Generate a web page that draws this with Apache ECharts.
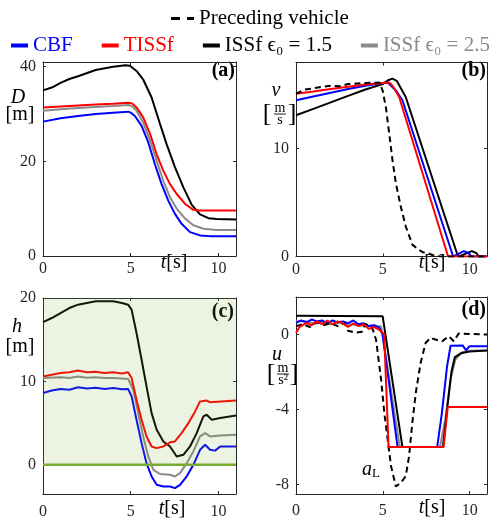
<!DOCTYPE html>
<html><head><meta charset="utf-8">
<script src="https://cdn.jsdelivr.net/npm/echarts@6/dist/echarts.min.js"></script>
<style>html,body{margin:0;padding:0;background:#fff}#c{width:500px;height:525px}</style>
</head><body><div id="c"></div>
<script>
// ---- tick values ----
const xTicks = [0, 5, 10];
const yTicksA = [0, 20, 40];
const yTicksB = [0, 10];
const yTicksC = [0, 10, 20];
const yTicksD = [-8, -4, 0];

// ---- series names ----
const names = ['CBF', 'TISSf', 'ISSf ϵ₀ = 1.5', 'ISSf ϵ₀ = 2.5', 'Preceding vehicle'];

// ---- (a) distance D [m] ----
const cbfD = [[0,28.4],[1,29.1],[2,29.6],[3,30.0],[4,30.3],[4.85,30.5],[5.0,30.3],[5.24,29.6],[5.62,27.5],[6.0,24.0],[6.38,19.4],[6.76,15.2],[7.14,11.7],[7.52,8.9],[7.9,6.8],[8.38,5.05],[8.95,4.35],[9.5,4.2],[11,4.2]];
const tissfD = [[0,31.4],[1,31.6],[2,31.8],[3,32.0],[4,32.2],[4.9,32.4],[5.1,32.2],[5.33,31.4],[5.71,29.3],[6.1,25.8],[6.48,21.5],[6.86,18.0],[7.24,15.2],[7.62,13.1],[8.1,11.0],[8.57,9.75],[8.95,9.6],[11,9.6]];
const issf15D = [[0,35.0],[0.5,35.6],[1,36.6],[1.5,37.4],[2,38.0],[3,39.3],[4,40.0],[4.7,40.3],[4.95,40.2],[5.33,39.1],[5.71,37.3],[6.19,33.5],[6.67,27.9],[7.05,23.6],[7.52,18.8],[8.0,14.5],[8.48,10.8],[8.95,8.8],[9.43,8.0],[9.9,7.8],[11,7.7]];
const issf25D = [[0,30.7],[1,31.0],[2,31.3],[3,31.5],[4,31.7],[4.9,31.9],[5.1,31.6],[5.33,30.7],[5.71,28.2],[6.1,24.4],[6.48,20.1],[6.86,15.9],[7.24,12.4],[7.62,10.0],[8.1,7.9],[8.57,6.5],[9.14,5.75],[9.9,5.5],[11,5.5]];

// ---- (b) speed v [m/s] ----
const precV = [[0,15.1],[0.5,15.5],[1,15.6],[1.5,15.75],[2,15.85],[2.5,15.8],[3,16.0],[3.5,16.05],[4,16.1],[4.8,16.15],[4.99,15.4],[5.18,13.8],[5.37,11.4],[5.56,8.9],[5.75,6.8],[6.04,4.6],[6.32,2.8],[6.7,1.1],[7.09,0.6],[7.3,0.4],[7.6,0.3],[8.0,0.05],[8.3,0],[11,0]];
const tissfV = [[0,15.1],[1,15.3],[2,15.55],[3,15.75],[4,15.95],[5,16.1],[5.37,16.15],[5.56,15.85],[5.94,14.8],[8.76,0],[11,0]];
const cbfV = [[0,14.5],[1,14.85],[2,15.2],[3,15.55],[4,15.85],[5,16.1],[5.28,16.15],[5.76,15.4],[6.13,14.5],[9.05,0],[9.3,0.2],[9.66,0.5],[9.9,0.35],[10.13,0],[11,0]];
const issf15V = [[0,13.1],[1,13.7],[2,14.3],[3,14.9],[4,15.5],[5,16.0],[5.3,16.35],[5.56,16.5],[5.8,16.3],[6.32,14.8],[9.33,0],[9.6,0.15],[10.13,0.5],[10.4,0.3],[10.51,0],[11,0]];

// ---- (c) safety h [m] ----
const safeTop = [[0,20],[11,20]];
const safeLine = [[0,0],[11,0]];
const cbfH = [[0,8.6],[0.5,8.9],[1,9.1],[1.5,9.0],[2,9.3],[2.5,9.15],[3,9.25],[3.5,9.1],[4,9.2],[4.5,9.05],[4.85,9.1],[5.05,8.2],[5.33,5.4],[5.62,2.6],[5.9,0.2],[6.19,-1.4],[6.48,-2.4],[6.86,-2.6],[7.24,-2.6],[7.52,-2.8],[7.81,-2.4],[8.19,-1.4],[8.57,0],[8.95,1.8],[9.24,2.4],[9.52,1.8],[9.81,1.7],[10.1,2.2],[11,2.2]];
const tissfH = [[0,10.6],[0.5,10.8],[1,11.0],[1.5,11.1],[2,11.3],[2.5,11.1],[3,11.15],[3.5,11.0],[4,11.1],[4.5,10.95],[4.85,11.1],[5.05,10.4],[5.33,7.8],[5.62,5.4],[5.9,3.4],[6.19,2.2],[6.48,2.0],[6.86,2.2],[7.24,2.7],[7.52,2.8],[7.9,3.8],[8.29,5.0],[8.67,6.4],[8.95,7.6],[9.33,7.7],[9.52,7.5],[11,7.7]];
const issf15H = [[0,17.1],[0.5,17.6],[1,18.2],[1.5,18.8],[2,19.2],[2.5,19.4],[3,19.6],[3.5,19.6],[4,19.6],[4.5,19.4],[4.85,19.2],[5.05,18.6],[5.33,15.8],[5.62,12.6],[5.9,9.4],[6.19,6.2],[6.48,4.2],[6.86,2.8],[7.24,2.2],[7.62,1.0],[8.0,1.2],[8.38,2.2],[8.76,3.8],[9.14,5.8],[9.33,6.0],[9.62,5.4],[10.1,5.6],[11,5.9]];
const issf25H = [[0,10.4],[1,10.5],[1.5,10.4],[2,10.6],[2.5,10.45],[3,10.5],[3.5,10.4],[4,10.4],[4.5,10.35],[4.85,10.3],[5.14,9.0],[5.43,6.2],[5.71,3.4],[6.0,1.0],[6.29,-0.6],[6.67,-1.1],[7.24,-1.2],[7.52,-1.4],[7.81,-1.0],[8.19,0.2],[8.57,1.6],[8.95,3.4],[9.24,3.8],[9.52,3.4],[10.1,3.5],[11,3.6]];

// ---- (d) input u [m/s^2] ----
const precU = [[0,0.44],[0.4,0.55],[0.8,0.4],[1.2,0.65],[1.6,0.5],[2.0,0.6],[2.4,0.45],[2.8,0.6],[3.0,0.2],[3.4,0.1],[3.8,0.15],[4.0,0.55],[4.2,0.5],[4.42,0.27],[4.61,-0.27],[4.9,-2.4],[5.09,-4.2],[5.28,-5.6],[5.47,-7.0],[5.75,-8.1],[6.04,-7.9],[6.32,-7.55],[6.51,-6.5],[6.7,-4.7],[6.9,-3.1],[7.18,-1.5],[7.47,-0.44],[7.75,-0.18],[8.04,-0.27],[8.42,-0.36],[8.8,-0.09],[9.09,-0.36],[9.37,0.05],[11,0]];
const cbfU = [[0,0.62],[0.3,0.75],[0.6,0.65],[0.9,0.8],[1.2,0.7],[1.5,0.75],[1.8,0.6],[2.1,0.75],[2.4,0.65],[2.7,0.7],[3.0,0.6],[3.3,0.75],[3.6,0.55],[3.9,0.6],[4.2,0.45],[4.5,0.5],[4.8,0.36],[4.99,0],[5.85,-6],[8.13,-6],[8.4,-4.2],[8.7,-1.7],[8.9,-0.6],[9.0,-0.53],[9.6,-0.58],[9.79,-0.84],[10.0,-0.62],[11,-0.62]];
const tissfU = [[0,0.09],[0.2,0.4],[0.6,0.62],[0.9,0.5],[1.2,0.7],[1.5,0.55],[1.8,0.75],[2.1,0.55],[2.4,0.7],[2.7,0.6],[3.0,0.4],[3.3,0.6],[3.6,0.45],[3.9,0.55],[4.2,0.3],[4.5,0.4],[4.8,0.25],[5.08,0.0],[5.33,-6],[8.5,-6],[8.74,-3.86],[11,-3.86]];
const issf15U = [[0,1.0],[4.99,0.98],[6.13,-6],[8.46,-6],[8.7,-4.0],[8.95,-2.0],[9.15,-1.2],[9.5,-1.0],[10,-0.9],[11,-0.85]];
const issf25U = [[0,0.7],[0.5,0.72],[1,0.6],[1.5,0.68],[2,0.55],[2.5,0.62],[3,0.5],[3.5,0.55],[4,0.45],[4.5,0.45],[4.9,0.44],[5.98,-6],[8.29,-6],[8.6,-4.5],[8.9,-2.4],[9.18,-1.33],[9.56,-0.94],[10,-0.87],[11,-0.85]];

// ---- styling ----
const SERIF = 'Liberation Serif';
const AX = '#262626';
const C = {CBF:'#0000ff', TISSf:'#ff0000', I15:'#000000', I25:'#8a8a8a', PREC:'#000000'};
const grids = [
  {left:43, top:62, width:193, height:194},
  {left:296, top:62.5, width:191, height:194},
  {left:43, top:298, width:193, height:196},
  {left:296, top:297, width:191, height:197}
];
const yRanges = [[0,41,yTicksA],[0,18,yTicksB],[-3.5,20,yTicksC],[-8.5,2,yTicksD]];
const xMargins = [5, 5, 10, 9];

const xAxes = [], yAxes = [];
grids.forEach((g, i) => {
  const common = {gridIndex:i, type:'value', splitLine:{show:false},
    axisLine:{show:true, onZero:false, lineStyle:{color:AX, width:1}}};
  xAxes.push(Object.assign({}, common, {position:'bottom', min:0, max:11,
    axisTick:{inside:true, length:3, customValues:xTicks, lineStyle:{color:AX}},
    axisLabel:{customValues:xTicks, margin:xMargins[i], fontFamily:SERIF, fontSize:16, color:AX}}));
  xAxes.push(Object.assign({}, common, {position:'top', min:0, max:11,
    axisTick:{inside:true, length:3, customValues:xTicks, lineStyle:{color:AX}},
    axisLabel:{show:false}}));
  const [mn, mx, tk] = yRanges[i];
  yAxes.push(Object.assign({}, common, {position:'left', min:mn, max:mx,
    axisTick:{inside:true, length:3, customValues:tk, lineStyle:{color:AX}},
    axisLabel:{customValues:tk, margin:7, fontFamily:SERIF, fontSize:16, color:AX}}));
  yAxes.push(Object.assign({}, common, {position:'right', min:mn, max:mx,
    axisTick:{inside:true, length:3, customValues:tk, lineStyle:{color:AX}},
    axisLabel:{show:false}}));
});

function line(name, data, gi, color, extra) {
  return Object.assign({type:'line', name, data, xAxisIndex:gi*2, yAxisIndex:gi*2,
    symbol:'none', showSymbol:false, color, silent:true, animation:false,
    lineStyle:{color, width:2}}, extra || {});
}
const dashed = {lineStyle:{color:'#000', width:2, type:[6,4]}};

const series = [
  // (a)
  line(names[3], issf25D, 0, C.I25), line(names[0], cbfD, 0, C.CBF),
  line(names[2], issf15D, 0, C.I15), line(names[1], tissfD, 0, C.TISSf),
  // (b)
  line(names[2], issf15V, 1, C.I15), line(names[0], cbfV, 1, C.CBF),
  line(names[1], tissfV, 1, C.TISSf), line(names[4], precV, 1, C.PREC, dashed),
  // (c)
  line(names[3], issf25H, 2, C.I25), line(names[0], cbfH, 2, C.CBF),
  line(names[2], issf15H, 2, C.I15), line(names[1], tissfH, 2, C.TISSf),
  line('safe', safeLine, 2, '#77ac30', {lineStyle:{color:'#77ac30', width:2.5}}),
  line('safeArea', safeTop, 2, 'rgba(119,172,48,0.2)', {z:5, lineStyle:{width:0},
    areaStyle:{color:'rgba(119,172,48,0.2)', origin:'auto'}}),
  // (d)
  line(names[3], issf25U, 3, C.I25), line(names[2], issf15U, 3, C.I15),
  line(names[0], cbfU, 3, C.CBF), line(names[4], precU, 3, C.PREC, dashed),
  line(names[1], tissfU, 3, C.TISSf)
];

function txt(x, y, text, opts) {
  return {type:'text', x, y, silent:true, style:Object.assign({text, fill:'#000',
    fontFamily:SERIF, fontSize:20, align:'center', verticalAlign:'middle',
    textAlign:'center', textVerticalAlign:'middle'}, opts || {})};
}
function frac(cx, y0, top, bot, lb, rb) {
  return [
    txt(lb, y0+11, '[', {fontSize:26}),
    txt(rb, y0+11, ']', {fontSize:26}),
    txt(cx, y0+5, top, {fontSize:14}),
    {type:'line', silent:true, shape:{x1:cx-6, y1:y0+11, x2:cx+6, y2:y0+11}, style:{stroke:'#000', lineWidth:0.9}},
    txt(cx, y0+17, bot, {fontSize:14})
  ];
}
const richT = {i:{fontFamily:SERIF, fontStyle:'italic', fontSize:20}, r:{fontFamily:SERIF, fontSize:20}};
const bold = {fontWeight:'bold', fontSize:20, align:'right', textAlign:'right'};
const graphics = [
  txt(18, 98, 'D', {fontStyle:'italic'}), txt(20, 115, '[m]'),
  txt(276, 91, 'v', {fontStyle:'italic'}),
  ...frac(280, 103, 'm', 's', 267, 292),
  txt(17, 327, 'h', {fontStyle:'italic'}), txt(20, 347, '[m]'),
  txt(277, 355, 'u', {fontStyle:'italic'}),
  ...frac(283, 363, 'm', 's²', 271, 294),
  txt(371, 470, '{i|a}{s|L}', {rich:{i:{fontFamily:SERIF, fontStyle:'italic', fontSize:20}, s:{fontFamily:SERIF, fontSize:13, padding:[8,0,0,0]}}}),
  txt(174, 263, '{i|t}{r|[s]}', {rich:richT}),
  txt(432, 263, '{i|t}{r|[s]}', {rich:richT}),
  txt(172, 509, '{i|t}{r|[s]}', {rich:richT}),
  txt(432, 508, '{i|t}{r|[s]}', {rich:richT}),
  txt(235, 71, '(a)', bold),
  txt(486, 71, '(b)', bold),
  txt(234, 312, '(c)', bold),
  txt(486, 310, '(d)', bold)
];

const chart = echarts.init(document.getElementById('c'), null, {renderer:'canvas'});
chart.setOption({
  animation:false,
  backgroundColor:'#fff',
  grid: grids,
  xAxis: xAxes,
  yAxis: yAxes,
  legend: [
    {data:[{name:names[4], icon:'path://M0,0H9V3H0Z M16,0H23V3H16Z'}], left:166, top:3,
     itemWidth:23, itemHeight:3, selectedMode:false, width:330,
     itemStyle:{color:'#000'},
     textStyle:{fontFamily:SERIF, fontSize:21, color:'#000'}},
    {data:[{name:names[0], textStyle:{color:C.CBF}}, {name:names[1], textStyle:{color:C.TISSf}},
           {name:names[2], textStyle:{color:'#000'}}, {name:names[3], textStyle:{color:C.I25}}],
     left:6, top:30, width:500, icon:'rect', itemWidth:17, itemHeight:4, itemGap:29, selectedMode:false,
     textStyle:{fontFamily:SERIF, fontSize:21}}
  ],
  graphic: graphics,
  series
});
</script></body></html>
